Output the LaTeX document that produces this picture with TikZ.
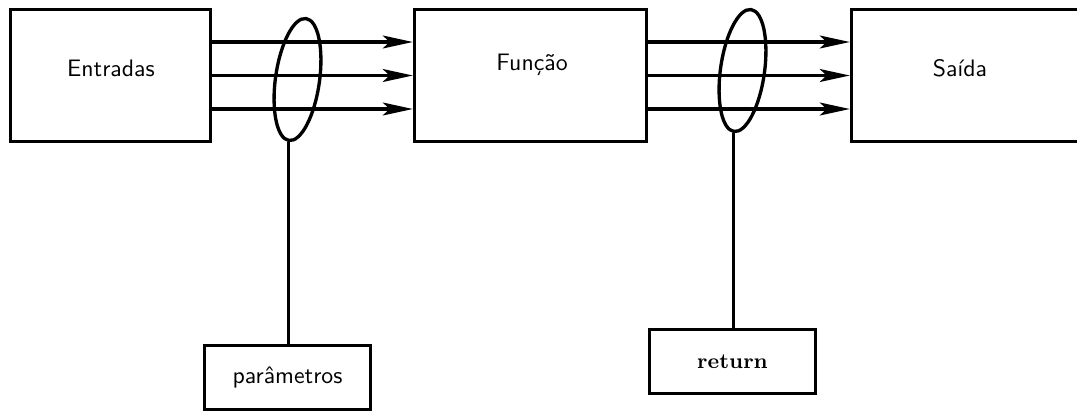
\documentclass[tikz,border=0pt]{standalone}
\usepackage{tikz}
\usetikzlibrary{arrows.meta,shapes.geometric}

\begin{document}
\begin{tikzpicture}[x=0.42pt,y=0.42pt]
\tikzstyle{bloco}=[rectangle,draw,line width=1.4pt,minimum width=97.4pt,minimum height=55.4pt,inner sep=0pt]
\tikzstyle{rotulo}=[rectangle,draw,line width=1.4pt,minimum width=69.7pt,minimum height=26.9pt,inner sep=0pt]
\tikzstyle{laco}=[ellipse,draw,line width=1.4pt,minimum width=18.5pt,minimum height=51.7pt,inner sep=0pt,rotate=-8]
\tikzstyle{seta}=[line width=1.4pt,-{Stealth[length=12.6pt,width=5.4pt,inset=2.8pt]}]
\useasboundingbox (0,0) rectangle (1077,410);
\clip (0,0) rectangle (1077,410);
% blocos de cima
\node [bloco,minimum width=84pt] (entradas) at (110.5,334.5) {};
\node [bloco] (funcao) at (530.5,334.5) {};
\node [bloco] (saida) at (967.5,334.5) {};
\node (t_entradas) at (111,342) {\sffamily Entradas};
\node (t_funcao) at (532,345) {\sffamily Função};
\node (t_saida) at (960,342) {\sffamily Saída};
% setas entre os blocos
\foreach \dy in {14.07pt,0pt,-14.07pt}{
  \draw [seta] ([yshift=\dy]entradas.east) -- ([yshift=\dy]funcao.west);
  \draw [seta] ([yshift=\dy]funcao.east) -- ([yshift=\dy]saida.west);
}
\node [laco] (par) at (297.5,330.5) {};
\node [laco] (ret) at (742.5,339.5) {};
% caixas de baixo
\node [rotulo] (parametros) at (287.5,32.5) {\sffamily parâmetros};
\node [rotulo] (return) at (732.5,48.5) {\small\bfseries return};
\draw [line width=1.4pt] (par.south) -- (par.south |- parametros.north);
\draw [line width=1.4pt] (ret.south) -- (ret.south |- return.north);
\end{tikzpicture}
\end{document}
